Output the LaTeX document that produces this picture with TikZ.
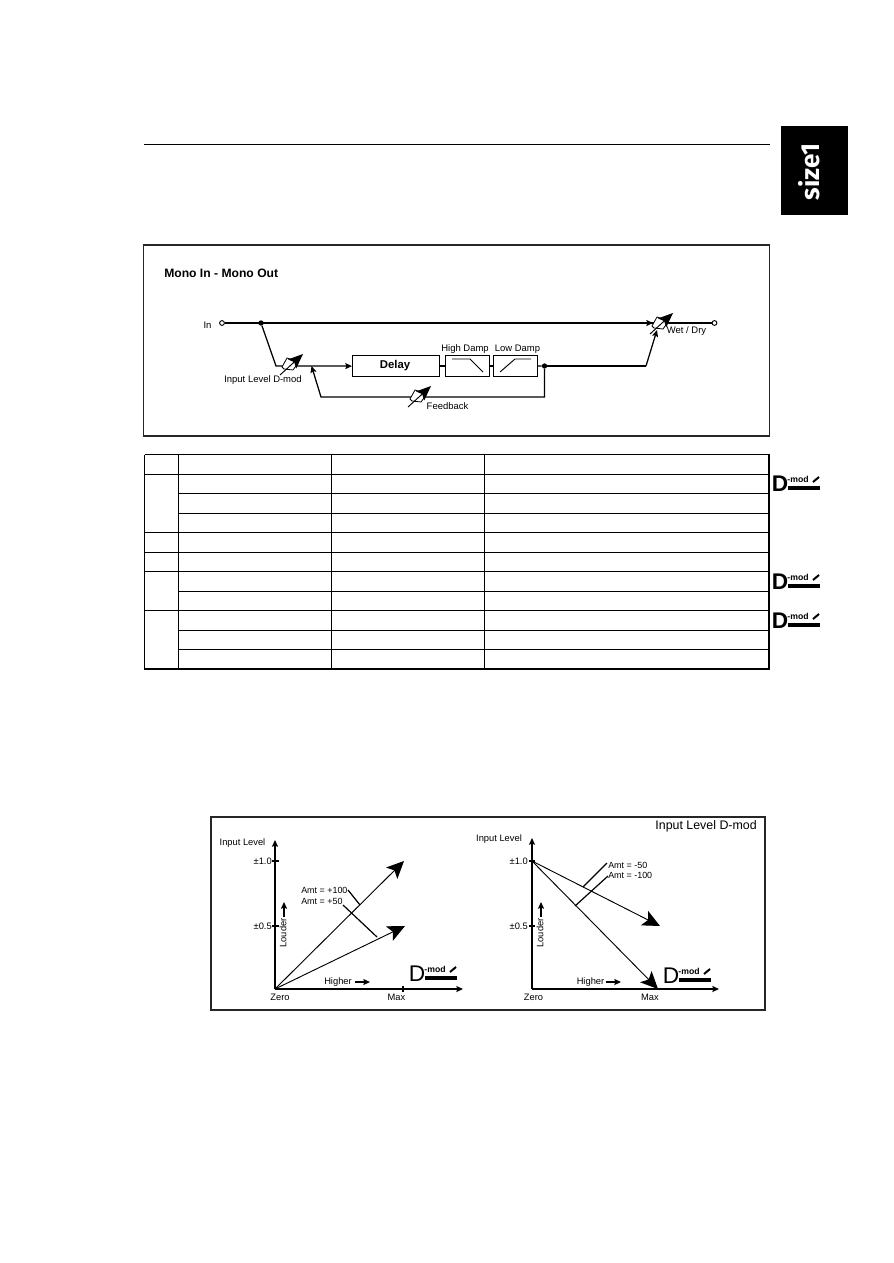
\documentclass[tikz,border=0pt]{standalone}
\usepackage{fontspec}
\setmainfont{Liberation Sans}
\newfontfamily\tabfont{Fira Sans}
\usetikzlibrary{arrows.meta}
\tikzset{
  wire/.style={line width=0.95pt,black},
  thin wire/.style={line width=0.7pt,black},
  axisline/.style={line width=0.9pt,black},
  tip/.style={-{Stealth[length=5pt,width=4.5pt,inset=0.8pt]}},
  bigtip/.style={-{Stealth[length=13pt,width=12pt,inset=3pt]}},
  lbl/.style={inner sep=0pt,font=\fontsize{7.1}{8}\selectfont},
  chartlbl/.style={inner sep=0pt,font=\fontsize{7}{8}\selectfont},
  fxbox/.style={draw,line width=0.9pt,inner sep=0pt,anchor=north west},
  term/.style={circle,draw,line width=0.7pt,fill=white,inner sep=0pt,minimum size=3.6pt},
  jun/.style={circle,fill=black,inner sep=0pt,minimum size=4pt},
  frame/.style={draw=black!85,line width=1.1pt},
  gridline/.style={line width=0.75pt,black},
}
% amp symbol: white skew box and a diagonal control arrow
\newcommand{\ampsym}[3]{%
  \coordinate (#1) at (#2,#3);
  \coordinate (#1s) at (#2-10,#3+11);
  \coordinate (#1e) at (#2+13,#3-10);
  \filldraw[fill=white,draw=black,line width=0.6pt]
    (#2-8,#3+3) -- (#2-3,#3-6) -- (#2+7,#3-3) -- (#2+8,#3-1) -- (#2+3,#3+6) -- (#2-6,#3+5) -- cycle;
  \draw[line width=0.7pt,-{Stealth[length=11pt,width=9pt,inset=2pt]}] (#1s) -- (#1e);
}
% D-mod icon with upper-left corner at (x,y)
\newcommand{\dmodicon}[4][]{%
  \node[inner sep=0pt,anchor=center,font=\fontsize{17}{20}\selectfont #1] (#2d) at (#3+7,#4+9) {D};
  \node[inner sep=0pt,anchor=center,font=\fontsize{6.5}{8}\selectfont\bfseries] (#2m) at (#3+25,#4+4.5) {-mod};
  \fill[black] (#3+15,#4+11) rectangle (#3+47,#4+15);
  \draw[line width=1.5pt] (#3+40,#4+7) -- (#3+46,#4+2);
}
\begin{document}
\begin{tikzpicture}[x=0.75pt,y=-0.75pt]
\useasboundingbox (0,0) rectangle (893,1263);
\fill[white] (0,0) rectangle (893,1263);

% header
\coordinate (hl) at (144,144);
\coordinate (hr) at (770,144);
\draw[line width=0.7pt] (hl) -- (hr);
\fill[black] (781,126) rectangle (848,215);
\node[inner sep=0pt,rotate=90,text=white,font=\tabfont\fontsize{19.5}{22}\selectfont\bfseries] (tab) at (809,172) {size1};

% block diagram frame
\draw[frame] (143.5,245) rectangle (769.5,436);
\node[lbl,anchor=west,font=\fontsize{9.1}{10}\selectfont\bfseries] (title) at (164,273) {Mono In - Mono Out};

\node[term] (in) at (222,323) {};
\node[term] (out) at (714.5,323) {};
\node[lbl] (inl) at (207.5,325) {In};
\node[jun] (j1) at (261,323) {};
\node[jun] (j2) at (544.5,366) {};
\coordinate (k1) at (276,366);
\coordinate (m1) at (311.5,366);
\coordinate (k2) at (321,397);
\coordinate (k3) at (544.5,397);
\coordinate (k4) at (646,366);
\coordinate (wetin) at (657,330);
\coordinate (wettop) at (653,323);
\coordinate (wetout) at (665,323);

\node[fxbox,minimum width=65pt,minimum height=15.75pt] (delay) at (352,355) {};
\node[inner sep=0pt,font=\fontsize{8.5}{10}\selectfont\bfseries] (delayl) at (395,366) {Delay};
\node[fxbox,minimum width=33pt,minimum height=15.75pt] (hd) at (445,355) {};
\node[fxbox,minimum width=33pt,minimum height=15.75pt] (ld) at (493,355) {};
\coordinate (hd1) at (452,359);
\coordinate (hd2) at (470,359);
\coordinate (hd3) at (483,372);
\draw[line width=0.7pt] (hd1) -- (hd2) -- (hd3);
\coordinate (ld1) at (500,372);
\coordinate (ld2) at (515,359);
\coordinate (ld3) at (531,359);
\draw[line width=0.7pt] (ld1) -- (ld2) -- (ld3);

\draw[wire] (in) -- (wetout) -- (out);
\draw[wire,tip] (j1) -- (k1) -- (delay.west);
\draw[wire] (delay.east) -- (hd.west);
\draw[wire] (hd.east) -- (ld.west);
\draw[wire] (ld.east) -- (j2);
\draw[wire] (j2) -- (k4);
\draw[wire,tip] (k4) -- (wetin);
\draw[wire,tip] (j2) -- (k3) -- (k2) -- (m1);
\draw[wire,tip] (in) -- (wettop);

\ampsym{ampa}{290}{364}
\ampsym{ampb}{418}{396}
\ampsym{ampc}{660}{323}

\node[lbl] (ampal) at (263,380) {Input Level D-mod};
\node[lbl] (ampbl) at (447.5,406) {Feedback};
\node[lbl] (hdl) at (465,349) {High Damp};
\node[lbl] (ldl) at (517.5,349) {Low Damp};
\node[lbl] (wetl) at (686.5,331) {Wet / Dry};

% parameter table (empty cells)
\foreach \yy in {454.5,474,532,552,571,610}{\draw[gridline] (144.5,\yy) -- (769,\yy);}
\foreach \yy in {493,513,591,630,649}{\draw[gridline] (178,\yy) -- (769,\yy);}
\foreach \xx in {144.5,178,331.5,484.5}{\draw[gridline] (\xx,454.5) -- (\xx,669);}
\draw[line width=1.3pt] (769,454) -- (769,669.5);
\draw[line width=1.6pt] (144,669) -- (770,669);

\dmodicon[\bfseries]{ia}{773}{475}
\dmodicon[\bfseries]{ib}{773}{573}
\dmodicon[\bfseries]{ic}{773}{612}

% lower frame
\draw[frame] (211,817) rectangle (765,1010);
\node[inner sep=0pt,anchor=east,font=\fontsize{9.3}{11}\selectfont] (ctitle) at (757,826) {Input Level D-mod};

% left chart
\coordinate (lo) at (275,989);
\coordinate (ly) at (275,840);
\coordinate (lx) at (463,989);
\coordinate (la) at (404,861);
\coordinate (lb) at (405,926);
\draw[axisline,tip] (lo) -- (ly);
\draw[axisline,tip] (lo) -- (lx);
\draw[axisline] (272,861) -- (279,861);
\draw[axisline] (272,926) -- (279,926);
\draw[axisline] (403,986) -- (403,992);
\draw[thin wire,bigtip] (lo) -- (la);
\draw[thin wire,bigtip] (lo) -- (lb);
\coordinate (lc1) at (348,890);
\coordinate (lc2) at (360,905);
\coordinate (lc3) at (343,905);
\coordinate (lc4) at (377,937);
\draw[line width=0.9pt] (lc1) -- (lc2);
\draw[line width=0.9pt] (lc3) -- (lc4);
\node[chartlbl] (lyl) at (242.5,843) {Input Level};
\node[chartlbl,anchor=east] (l10) at (272,861) {±1.0};
\node[chartlbl,anchor=east] (l05) at (272,926) {±0.5};
\node[chartlbl] (lz) at (280,997) {Zero};
\node[chartlbl] (lm) at (396.5,997) {Max};
\node[chartlbl] (lh) at (338,982) {Higher};
\coordinate (lh1) at (355,982);
\coordinate (lh2) at (370,982);
\draw[line width=0.9pt,tip] (lh1) -- (lh2);
\node[chartlbl,rotate=90] (ll) at (283,933) {Louder};
\coordinate (ll1) at (284,917);
\coordinate (ll2) at (284,902);
\draw[line width=0.9pt,tip] (ll1) -- (ll2);
\node[chartlbl,anchor=west,font=\fontsize{6.7}{8}\selectfont] (la1) at (301,890) {Amt = +100};
\node[chartlbl,anchor=west,font=\fontsize{6.7}{8}\selectfont] (la2) at (301,901) {Amt = +50};
\dmodicon{id}{410}{965}

% right chart
\coordinate (ro) at (532,989);
\coordinate (ry) at (532,838);
\coordinate (rx) at (719,989);
\coordinate (rs) at (532,861);
\coordinate (ra) at (660,926);
\coordinate (rb) at (658,989);
\draw[axisline,tip] (ro) -- (ry);
\draw[axisline,tip] (ro) -- (rx);
\draw[axisline] (529,861) -- (535,861);
\draw[axisline] (529,926) -- (535,926);
\draw[thin wire,bigtip] (rs) -- (ra);
\draw[thin wire,bigtip] (rs) -- (rb);
\coordinate (rc1) at (607,863);
\coordinate (rc2) at (583,887);
\coordinate (rc3) at (608,876);
\coordinate (rc4) at (575,906);
\draw[line width=0.9pt] (rc1) -- (rc2);
\draw[line width=0.9pt] (rc3) -- (rc4);
\node[chartlbl] (ryl) at (499,839) {Input Level};
\node[chartlbl,anchor=east] (r10) at (528,861) {±1.0};
\node[chartlbl,anchor=east] (r05) at (528,926) {±0.5};
\node[chartlbl] (rz) at (533.5,997) {Zero};
\node[chartlbl] (rm) at (650,997) {Max};
\node[chartlbl] (rh) at (590.5,982) {Higher};
\coordinate (rh1) at (606,982);
\coordinate (rh2) at (621,982);
\draw[line width=0.9pt,tip] (rh1) -- (rh2);
\node[chartlbl,rotate=90] (rl) at (540,933) {Louder};
\coordinate (rl1) at (541,917);
\coordinate (rl2) at (541,902);
\draw[line width=0.9pt,tip] (rl1) -- (rl2);
\node[chartlbl,anchor=west,font=\fontsize{6.7}{8}\selectfont] (ra1) at (608,865) {Amt = -50};
\node[chartlbl,anchor=west,font=\fontsize{6.7}{8}\selectfont] (ra2) at (608,875.5) {Amt = -100};
\dmodicon{ie}{664}{967}
\end{tikzpicture}
\end{document}
